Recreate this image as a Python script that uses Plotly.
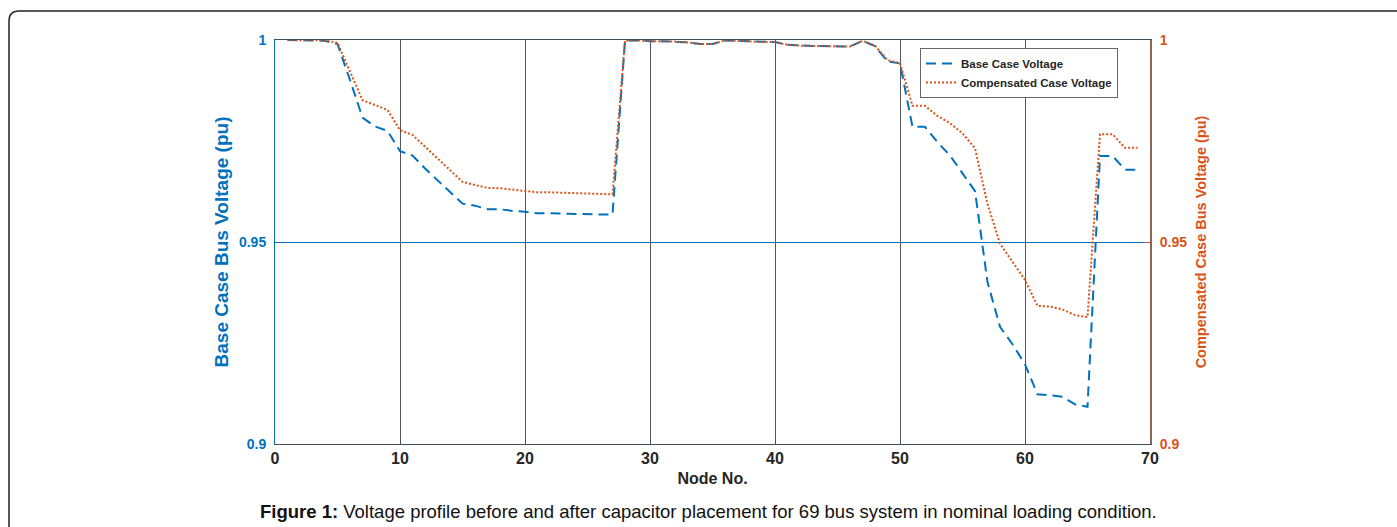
import plotly.graph_objects as go

nodes = list(range(1, 70))

base_voltage = [
    1.0000, 1.0000, 0.9999, 0.9998, 0.9990, 0.9901, 0.9808, 0.9786, 0.9775, 0.9725,
    0.9714, 0.9682, 0.9653, 0.9624, 0.9595, 0.9590, 0.9581, 0.9581, 0.9577, 0.9575,
    0.9571, 0.9571, 0.9570, 0.9569, 0.9568, 0.9568, 0.9568, 0.9999, 0.9999, 0.9997,
    0.9997, 0.9996, 0.9994, 0.9990, 0.9990, 0.9999, 0.9998, 0.9996, 0.9995, 0.9995,
    0.9988, 0.9986, 0.9985, 0.9985, 0.9984, 0.9984, 0.9998, 0.9985, 0.9947, 0.9942,
    0.9785, 0.9785, 0.9747, 0.9714, 0.9670, 0.9626, 0.9401, 0.9290, 0.9247, 0.9197,
    0.9123, 0.9121, 0.9117, 0.9098, 0.9092, 0.9713, 0.9713, 0.9679, 0.9679,
]

compensated_voltage = [
    1.0000, 1.0000, 1.0000, 0.9999, 0.9993, 0.9922, 0.9851, 0.9839, 0.9827, 0.9777,
    0.9765, 0.9736, 0.9707, 0.9678, 0.9649, 0.9641, 0.9634, 0.9633, 0.9630, 0.9627,
    0.9623, 0.9623, 0.9622, 0.9621, 0.9620, 0.9619, 0.9618, 0.9999, 0.9999, 0.9997,
    0.9997, 0.9996, 0.9994, 0.9990, 0.9990, 0.9999, 0.9998, 0.9996, 0.9995, 0.9995,
    0.9988, 0.9986, 0.9985, 0.9985, 0.9984, 0.9984, 0.9998, 0.9986, 0.9950, 0.9943,
    0.9837, 0.9837, 0.9812, 0.9794, 0.9769, 0.9732, 0.9594, 0.9496, 0.9451, 0.9406,
    0.9342, 0.9340, 0.9333, 0.9319, 0.9314, 0.9767, 0.9767, 0.9733, 0.9733,
]

x_ticks = [0, 10, 20, 30, 40, 50, 60, 70]
y_ticks = [0.9, 0.95, 1.0]
y_tick_text = ["0.9", "0.95", "1"]

BLUE = "#0072BD"
ORANGE = "#D95319"
FONT = "Arial, Liberation Sans, sans-serif"

fig = go.Figure()
fig.add_trace(go.Scatter(
    x=nodes, y=base_voltage, mode="lines", name="Base Case Voltage",
    line=dict(color=BLUE, width=2, dash="10px,6px"), yaxis="y",
))
fig.add_trace(go.Scatter(
    x=nodes, y=compensated_voltage, mode="lines", name="Compensated Case Voltage",
    line=dict(color=ORANGE, width=2, dash="2px,2px"), yaxis="y2",
))

L, R, T, B = 275, 247, 40, 83
W, H = 1397, 527
pw, ph = W - L - R, H - T - B


def px(xp):
    return (xp - L) / pw


def py(yp):
    return (H - B - yp) / ph


frame_path = (
    f"M {px(9)},{py(540)} L {px(9)},{py(21)} "
    f"Q {px(9)},{py(11)} {px(19)},{py(11)} L {px(1410)},{py(11)}"
)

fig.update_layout(
    width=W, height=H,
    margin=dict(l=L, r=R, t=T, b=B, pad=0),
    paper_bgcolor="white", plot_bgcolor="white",
    font=dict(family=FONT, color="#262626"),
    xaxis=dict(
        range=[0, 70], tickvals=x_ticks, ticks="inside", ticklen=5,
        tickcolor="#3d4f5c", showline=True, linecolor="#3d4f5c", linewidth=1,
        mirror=True, showgrid=True, gridcolor="#555555", gridwidth=1,
        zeroline=False, ticklabelstandoff=0,
        tickfont=dict(size=16, weight="bold", color="#262626"),
        title=dict(text="Node No.", font=dict(size=16, weight="bold", color="#262626"), standoff=6),
    ),
    yaxis=dict(
        range=[0.9, 1.0], tickvals=y_ticks, ticktext=y_tick_text, ticks="inside",
        ticklen=5, tickcolor=BLUE, showline=True, linecolor=BLUE, linewidth=1,
        showgrid=True, gridcolor=BLUE, gridwidth=1, zeroline=False,
        tickfont=dict(size=14, weight="bold", color=BLUE), ticklabelstandoff=5,
        title=dict(text="Base Case Bus Voltage (pu)", font=dict(size=19, weight="bold", color=BLUE), standoff=5),
    ),
    yaxis2=dict(
        range=[0.9, 1.0], tickvals=y_ticks, ticktext=y_tick_text, ticks="inside",
        ticklen=5, tickcolor=ORANGE, showline=True, linecolor="#8c6457", linewidth=2,
        overlaying="y", side="right", showgrid=False, zeroline=False,
        tickfont=dict(size=14, weight="bold", color=ORANGE), ticklabelstandoff=5,
        title=dict(text="Compensated Case Bus Voltage (pu)", font=dict(size=14.5, weight="bold", color=ORANGE), standoff=10),
    ),
    legend=dict(
        x=px(920), y=py(48), xanchor="left", yanchor="top",
        bgcolor="white", bordercolor="#666666", borderwidth=1,
        font=dict(size=11.5, weight="bold", color="#262626"),
        tracegroupgap=0,
    ),
    shapes=[dict(
        type="path", xref="paper", yref="paper", path=frame_path,
        line=dict(color="#222222", width=1.5),
    )],
    annotations=[dict(
        xref="paper", yref="paper", x=px(708), y=py(512), xanchor="center", yanchor="middle",
        showarrow=False,
        text="<b>Figure 1:</b> Voltage profile before and after capacitor placement for 69 bus system in nominal loading condition.",
        font=dict(size=18.5, color="#111111", family=FONT),
    )],
)

fig.write_html("out.html", config={"displayModeBar": False},
               post_script="document.body.style.margin='0';")
